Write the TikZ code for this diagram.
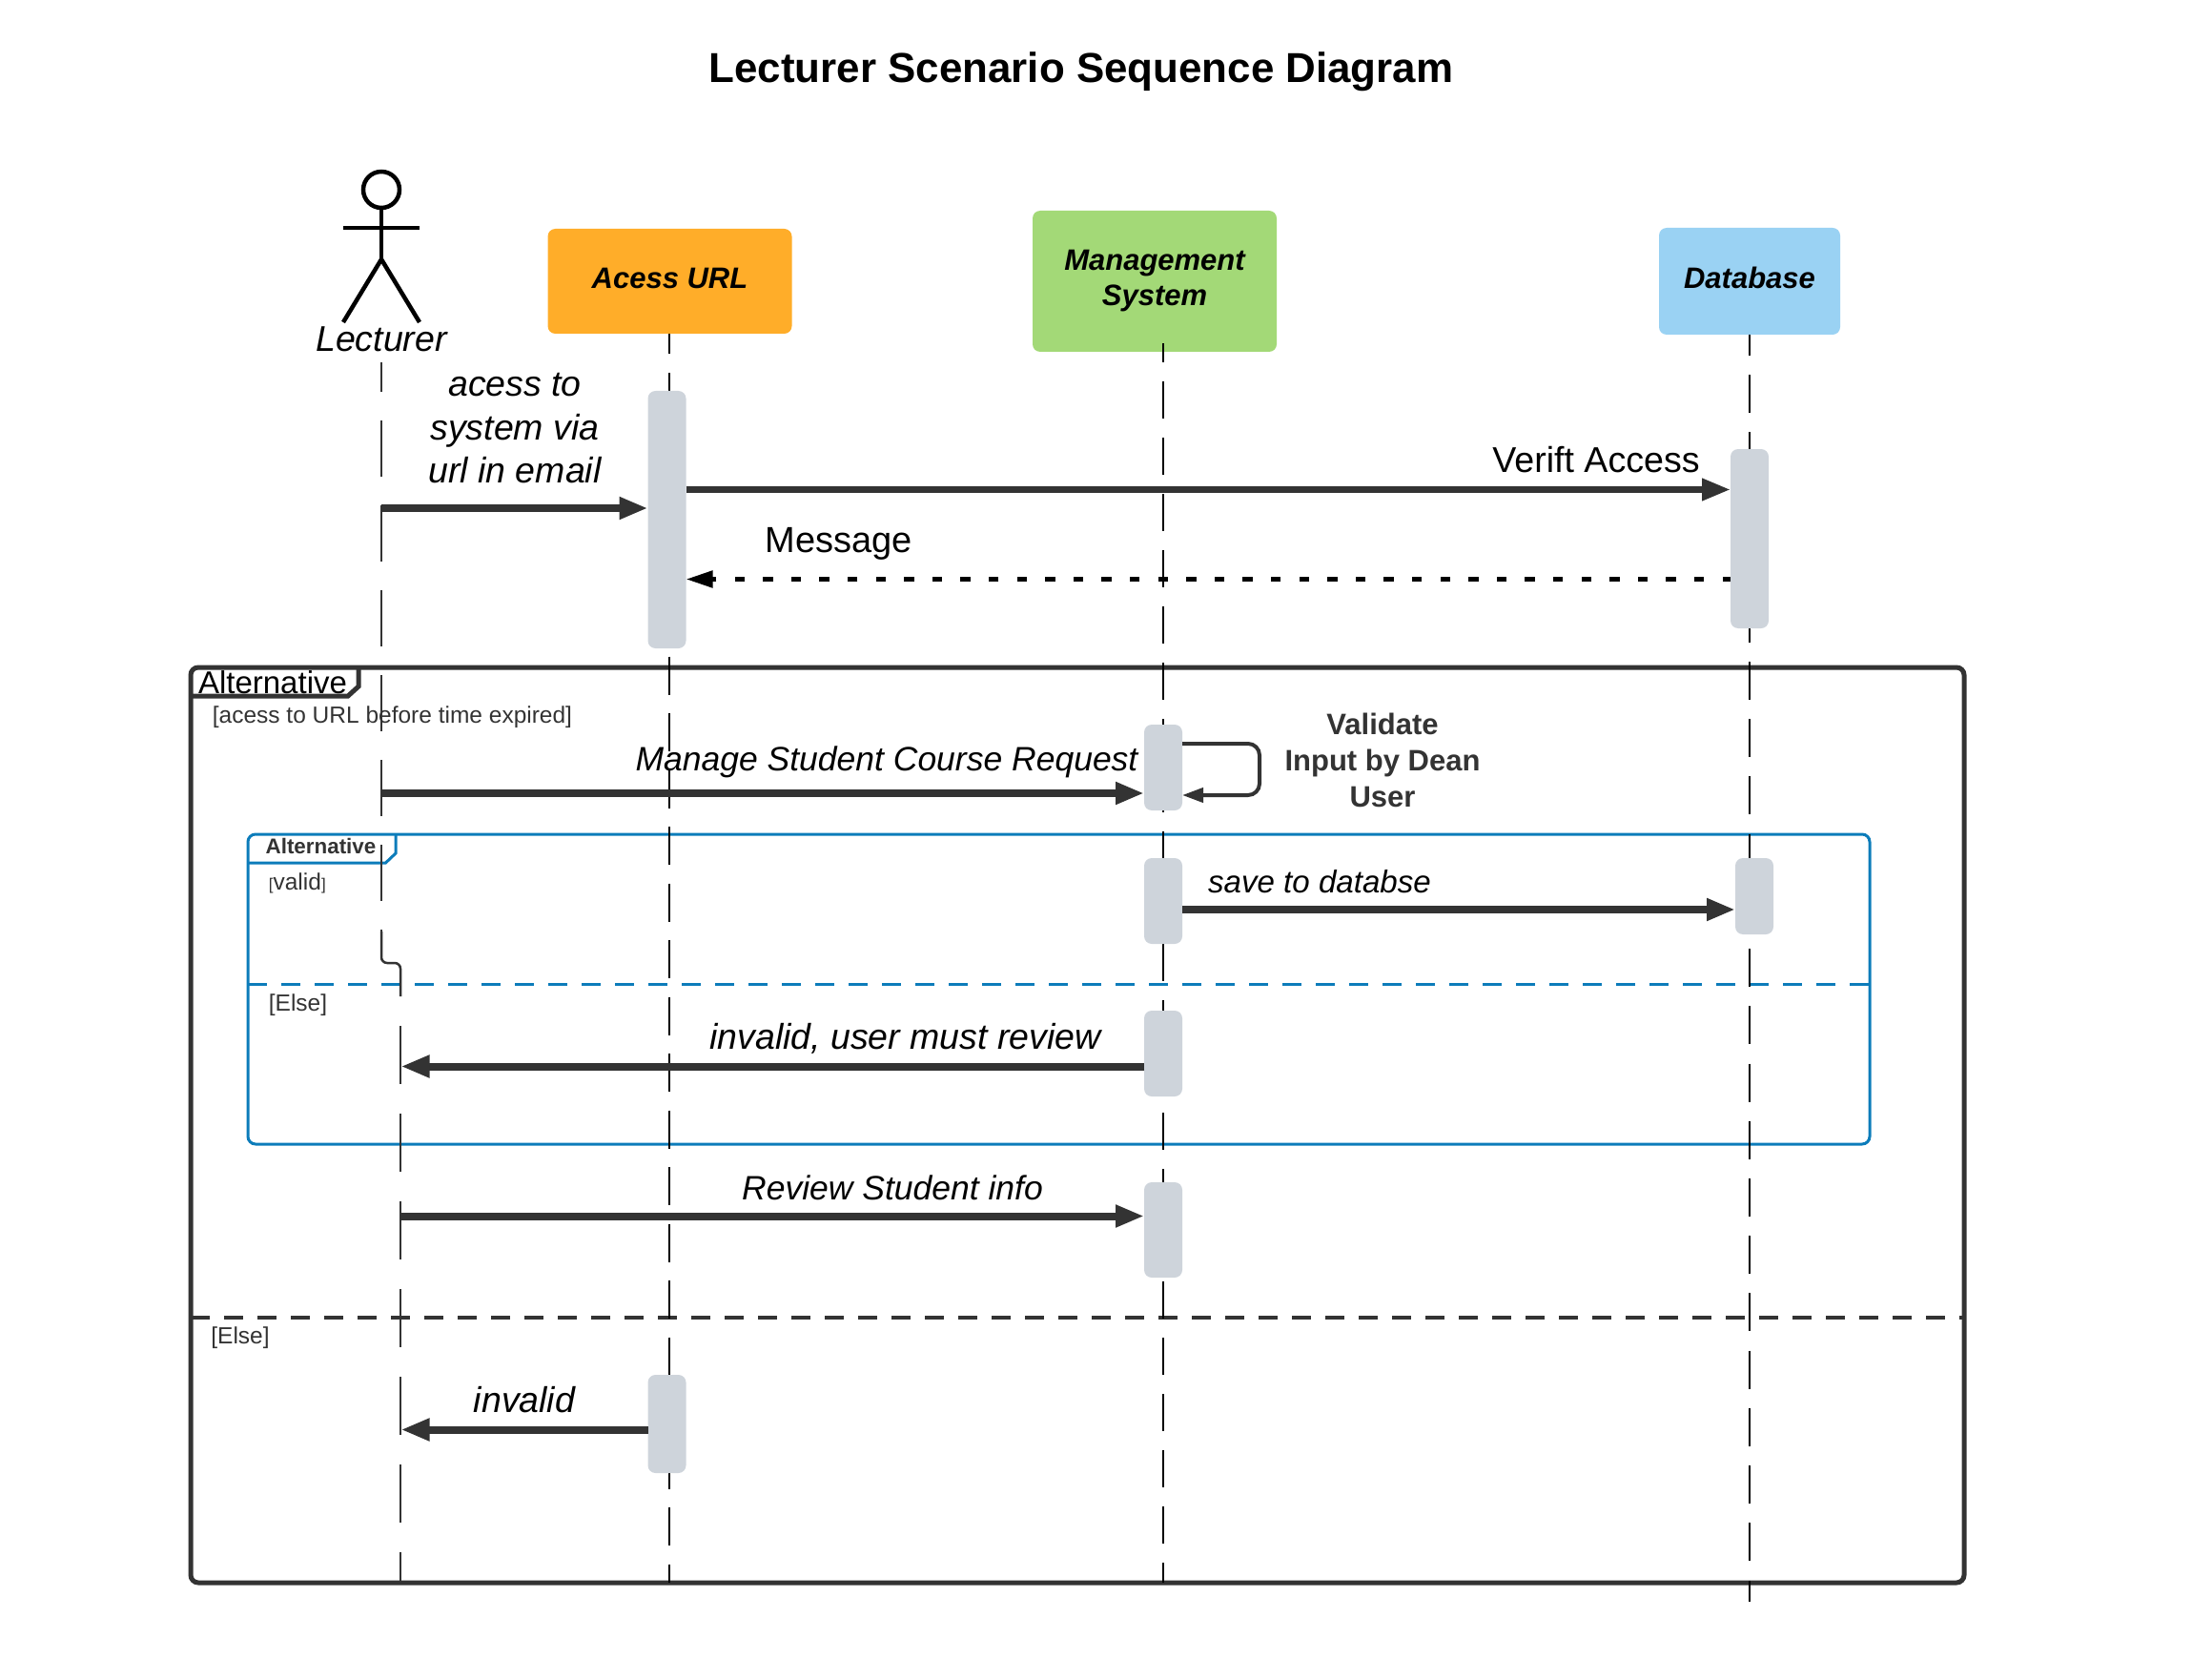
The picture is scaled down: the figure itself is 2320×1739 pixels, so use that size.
\documentclass[tikz,border=0pt]{standalone}
\usepackage{fontspec}
\setmainfont{Liberation Sans}
\usetikzlibrary{arrows.meta}
\definecolor{urlcol}{HTML}{FFAD29}
\definecolor{mgmtcol}{HTML}{A3D977}
\definecolor{dbcol}{HTML}{9AD2F3}
\definecolor{activecol}{HTML}{CED4DB}
\definecolor{inkcol}{HTML}{333333}
\definecolor{altcol}{HTML}{0C7CBA}
\tikzstyle{object} = [rounded corners=4pt, inner sep=0pt, outer sep=0pt, minimum width=128pt, align=center, font=\fontsize{15.5pt}{18.5pt}\selectfont\bfseries\itshape]
\tikzstyle{active} = [fill=activecol, rounded corners=4pt, inner sep=0pt, outer sep=0pt, minimum width=20pt]
\tikzstyle{label} = [inner sep=0pt, align=center, font=\fontsize{18.75pt}{22.75pt}\selectfont\itshape]
\tikzstyle{guard} = [inner sep=0pt, anchor=west, text=inkcol, font=\fontsize{12.25pt}{14pt}\selectfont]
\tikzstyle{stick} = [draw=black, line width=2.25pt]
\tikzstyle{msg} = [draw=inkcol, line width=4pt, -{Triangle[length=15pt,width=11pt]}]
\tikzstyle{lecline} = [draw=inkcol, line width=1.25pt, dash pattern=on 29.5pt off 15pt]
\tikzstyle{lifeline} = [draw=black, line width=1pt]

\begin{document}
\begin{tikzpicture}[x=0.5pt, y=-0.5pt]
    \useasboundingbox (0,0) rectangle (2320,1739);
    \node[inner sep=0pt, font=\fontsize{21.95pt}{26pt}\selectfont\bfseries] (title) at (1134,75) {Lecturer Scenario Sequence Diagram};

    % frames
    \node[draw=inkcol, line width=2.5pt, rounded corners=4pt, minimum width=930pt, minimum height=480pt] (altouter) at (1130,1180) {};
    \node[inner sep=0pt, font=\fontsize{16.5pt}{18pt}\selectfont] (altoutertext) at (286,716) {Alternative};
    \coordinate (tabouta) at (200,730);
    \coordinate (taboutb) at (365,730);
    \coordinate (taboutc) at (376,720);
    \coordinate (taboutd) at (376,700);
    \draw[draw=inkcol, line width=2.5pt] (tabouta) -- (taboutb) -- (taboutc) -- (taboutd);
    \node[guard] (guardurl) at (222.5,752) {[acess to URL before time expired]};

    \node[draw=altcol, line width=1.5pt, rounded corners=4pt, minimum width=850.5pt, minimum height=162.5pt] (altinner) at (1110.5,1037.5) {};
    \node[inner sep=0pt, text=inkcol, font=\fontsize{11.2pt}{13pt}\selectfont\bfseries] (altinnertext) at (336.5,887) {Alternative};
    \coordinate (tabina) at (260,905);
    \coordinate (tabinb) at (404.5,905);
    \coordinate (tabinc) at (415,895);
    \coordinate (tabind) at (415,875);
    \draw[draw=altcol, line width=1.5pt] (tabina) -- (tabinb) -- (tabinc) -- (tabind);
    \node[guard] (guardvalid) at (281.5,926.5) {{\fontsize{8.5pt}{10pt}\selectfont[}valid{\fontsize{8.5pt}{10pt}\selectfont]}};
    \node[guard] (guardelse) at (281.5,1054.5) {[Else]};
    \coordinate (elseina) at (260,1032);
    \coordinate (elseinb) at (1961,1032);
    \draw[draw=altcol, line width=1.5pt, dash pattern=on 10pt off 7.5pt] (elseina) -- (elseinb);

    \coordinate (elseouta) at (200,1382);
    \coordinate (elseoutb) at (2060,1382);
    \draw[draw=inkcol, line width=2pt, dash pattern=on 10pt off 7.5pt] (elseouta) -- (elseoutb);
    \node[guard] (guardother) at (221,1403) {[Else]};

    % actor
    \node[draw=black, line width=2.25pt, circle, inner sep=0pt, minimum size=19pt] (head) at (400,199) {};
    \coordinate (hip) at (400,272);
    \coordinate (arml) at (360,239);
    \coordinate (armr) at (440,239);
    \coordinate (legl) at (360,338);
    \coordinate (legr) at (440,338);
    \draw[stick] (head.south) -- (hip);
    \draw[stick] (arml) -- (armr);
    \draw[stick] (legl) -- (hip) -- (legr);
    \node[label, inner ysep=5.5pt] (lecturer) at (400,356) {Lecturer};

    % objects
    \node[object, fill=urlcol, minimum height=55pt, text depth=3.5pt] (url) at (702.5,295) {Acess URL};
    \node[object, fill=mgmtcol, minimum height=74pt] (mgmt) at (1211,295) {Management\\System};
    \node[object, fill=dbcol, minimum width=95pt, minimum height=56pt, text depth=4pt] (db) at (1835,295) {Database};

    % lifelines
    \coordinate (lecjog) at (400,977);
    \coordinate (lecjogb) at (420,1045);
    \coordinate (lecrest) at (420,1076);
    \coordinate (lecend) at (420,1659);
    \coordinate (urlend) at (702,1660);
    \coordinate (mgmttop) at (1220,360);
    \coordinate (mgmtend) at (1220,1660);
    \coordinate (dbend) at (1835,1680);
    \draw[lecline, dash phase=14pt] (lecturer.south) -- (lecjog);
    \draw[draw=inkcol, line width=1.25pt, rounded corners=3pt] (lecjog) |- (lecjogb |- 0,1010) -- (lecjogb);
    \draw[lecline, dash pattern=on 30.35pt off 15.65pt] (lecrest) -- (lecend);
    \draw[lifeline, dash pattern=on 20pt off 9.75pt, dash phase=9.25pt] (url.south -| urlend) -- (urlend);
    \draw[lifeline, dash pattern=on 19.65pt off 9.85pt, dash phase=9.5pt] (mgmttop) -- (mgmtend);
    \draw[lifeline, dash pattern=on 20pt off 10.11pt, dash phase=9.15pt] (db.south) -- (dbend);

    % activations
    \node[active, minimum height=135pt] (act1) at (699.5,545) {};
    \node[active, minimum height=94pt] (act2) at (1835,565) {};
    \node[active, minimum height=45pt] (act3) at (1220,805) {};
    \node[active, minimum height=45pt] (act4) at (1220,945) {};
    \node[active, minimum height=40pt] (act5) at (1840,940) {};
    \node[active, minimum height=45pt] (act6) at (1220,1105) {};
    \node[active, minimum height=50pt] (act7) at (1220,1290) {};
    \node[active, minimum height=51.5pt] (act8) at (699.5,1493.5) {};

    % messages
    \coordinate (m1) at (400,533);
    \draw[msg] (m1) -- (act1.west |- m1);
    \node[label] (m1text) at (540,449.5) {acess to\\system via\\url in email};

    \coordinate (m2) at (720,513.5);
    \draw[msg, line width=3.5pt] (act1.east |- m2) -- (act2.west |- m2);
    \node[label, font=\fontsize{18.8pt}{22pt}\selectfont] (m2text) at (1674,482) {Verift Access};

    \coordinate (m3) at (720,607.5);
    \draw[draw=black, line width=2.5pt, dash pattern=on 5.2pt off 9.6pt, dash phase=1pt, -{Triangle[length=14pt,width=8.5pt]}] (act2.west |- m3) -- (act1.east |- m3);
    \node[label, font=\fontsize{19pt}{22pt}\selectfont] (m3text) at (880,570) {Message};

    \coordinate (m4) at (400,832);
    \draw[msg] (m4) -- (act3.west |- m4);
    \node[label, font=\fontsize{17.75pt}{21pt}\selectfont\itshape] (m4text) at (930,799) {Manage Student Course Request};

    \coordinate (selfa) at (1321,780);
    \coordinate (selfb) at (1321,834);
    \draw[draw=inkcol, line width=2pt, rounded corners=6pt, -{Triangle[length=11pt,width=7.5pt]}] (act3.east |- selfa) -- (selfa) -- (selfb) -- (act3.east |- selfb);
    \node[inner sep=0pt, align=center, text=inkcol, font=\fontsize{15.5pt}{19pt}\selectfont\bfseries] (selftext) at (1450,797) {Validate\\Input by Dean\\User};

    \coordinate (m5) at (1240,954);
    \draw[msg] (act4.east |- m5) -- (act5.west |- m5);
    \node[label, font=\fontsize{16.55pt}{20pt}\selectfont\itshape] (m5text) at (1384,925) {save to databse};

    \coordinate (m6) at (420.5,1118.5);
    \draw[msg] (act6.west |- m6) -- (m6);
    \node[label] (m6text) at (949.5,1089.5) {invalid, user must review};

    \coordinate (m7) at (420,1275.5);
    \draw[msg] (m7) -- (act7.west |- m7);
    \node[label, font=\fontsize{17.75pt}{21pt}\selectfont\itshape] (m7text) at (936,1246) {Review Student info};

    \coordinate (m8) at (420.5,1499.5);
    \draw[msg] (act8.west |- m8) -- (m8);
    \node[label] (m8text) at (550,1468) {invalid};
\end{tikzpicture}
\end{document}
